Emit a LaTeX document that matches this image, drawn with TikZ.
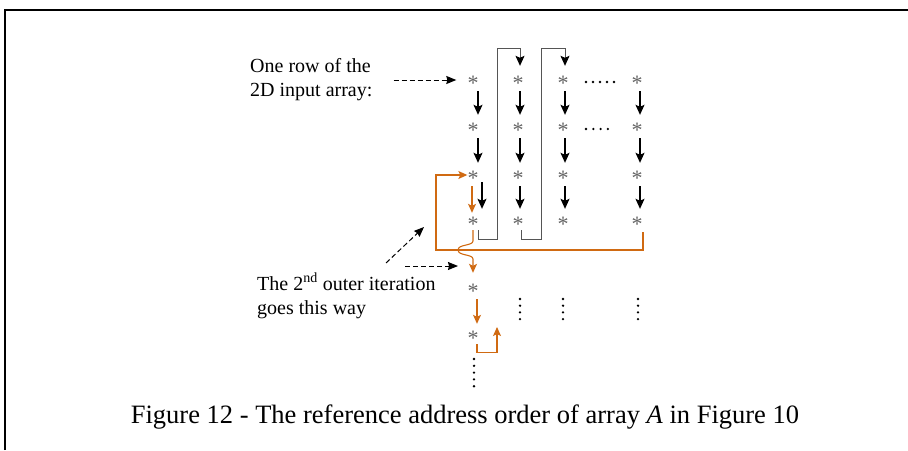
\documentclass[tikz,border=0pt]{standalone}
\usepackage{fontspec}
\setmainfont{Liberation Serif}
\usetikzlibrary{arrows.meta,calc}
\definecolor{burnt}{RGB}{208,106,18}
\definecolor{linkgray}{RGB}{85,85,85}
\definecolor{stargray}{RGB}{100,100,100}
% asterisk whose visual centre sits on the node centre
\newcommand{\cellmark}{\raisebox{-0.47em}[0pt][0pt]{*}}
\begin{document}
\begin{tikzpicture}[x=1pt,y=-1pt,
  star/.style={inner sep=0pt,minimum width=8pt,minimum height=22pt,text=stargray,
    font=\fontsize{22}{22}\selectfont},
  tip/.style={-{Stealth[length=10pt,width=9pt,inset=2pt]}},
  flow/.style={tip,line width=1.2pt,black,shorten >=1pt},
  serp/.style={line width=1pt,linkgray,-{Stealth[length=10pt,width=9pt,inset=2pt,black]}},
  orng/.style={line width=1.1pt,burnt,-{Stealth[length=9pt,width=8pt,inset=2pt]}},
  dsh/.style={line width=1pt,black,dash pattern=on 5pt off 3pt,
    -{Stealth[length=10pt,width=8pt,inset=1pt]}},
  lbl/.style={inner sep=0pt,align=left,font=\fontsize{20}{24}\selectfont},
  dotmark/.style={fill=black,circle,inner sep=0pt,minimum size=2.6pt}]
\useasboundingbox (0,0) rectangle (908,450);
% open frame: left and top edges only
\draw[line width=2pt] (5,450) -- (5,10) -- (908,10);

% grid of array elements
\foreach \c/\x in {1/473,2/518,3/563,4/637}{
  \foreach \r/\y in {1/80,2/127,3/175,4/221}{
    \node[star] (s\c\r) at (\x,\y) {\cellmark};
  }
}
\node[star] (s15) at (473,288) {\cellmark};
\node[star] (s16) at (473,335) {\cellmark};

% inner iteration arrows
\foreach \c/\dx in {1/5,2/2,3/2,4/3}{
  \draw[flow] ([xshift=\dx pt]s\c1.south) -- ([xshift=\dx pt]s\c2.north);
  \draw[flow] ([xshift=\dx pt]s\c2.south) -- ([xshift=\dx pt]s\c3.north);
}
\draw[flow] ([xshift=9pt,yshift=4pt]s13.south) -- ([xshift=9pt]s14.north);
\foreach \c/\dx in {2/2,3/2,4/3}{
  \draw[flow] ([xshift=\dx pt]s\c3.south) -- ([xshift=\dx pt]s\c4.north);
}

% column-to-column links
\coordinate (u1) at (497,48);
\coordinate (u2) at (541,48);
\draw[serp] ([xshift=5pt,yshift=2pt]s14.south) -- ++(0,9) -| (u1) -| ([xshift=2pt,yshift=3pt]s21.north);
\draw[serp] ([xshift=3pt,yshift=2pt]s24.south) -- ++(0,9) -| (u2) -| ([xshift=2pt,yshift=3pt]s31.north);

% horizontal ellipses in rows 1 and 2
\foreach \i in {0,...,4}{ \node[dotmark] (ha\i) at (586+7*\i,82) {}; }
\foreach \i in {0,...,3}{ \node[dotmark] (hb\i) at (586+7.3*\i,129) {}; }

% vertical ellipses below the grid
\foreach \x/\n in {520/a,563/b,638/c}{
  \foreach \i in {0,...,3}{ \node[dotmark] (v\n\i) at (\x,299+6.7*\i) {}; }
}
\foreach \i in {0,...,4}{ \node[dotmark] (vd\i) at (474,359+6.8*\i) {}; }

% second outer iteration
\coordinate (lp) at (436,250);
\draw[orng] ([xshift=6pt]s44.south) |- (lp) |- (s13.west);
\draw[orng] ([xshift=-1pt]s13.south) -- ([xshift=-1pt,yshift=-3pt]s14.north);
\coordinate (hop) at (473,250);
\draw[orng] ([yshift=2pt]s14.south) -- ($(hop)+(0,-9)$)
  .. controls ($(hop)+(0,-4)$) and ($(hop)+(-15,-6)$) .. ($(hop)+(-15,0)$)
  .. controls ($(hop)+(-15,6)$) and ($(hop)+(0,4)$) .. ($(hop)+(0,9)$)
  -- ([yshift=4pt]s15.north);
\draw[orng] ([xshift=4pt]s15.south) -- ([xshift=4pt]s16.north);
\coordinate (lr) at (497,327);
\draw[orng] ([xshift=4pt,yshift=2pt]s16.south) -- ++(0,8) -| (lr);

% labels
\node[lbl,anchor=west] (row) at (250,80) {One row of the\\2D input array:};
\draw[dsh] ([xshift=21pt]row.east) -- ([xshift=-11pt]s11.west);

\node[lbl,anchor=north west] (outer) at (257,273)
  {The 2\textsuperscript{nd} outer iteration\\goes this way};
\coordinate (da) at (386,263);
\coordinate (db) at (424,227);
\draw[dsh] (da) -- (db);
\coordinate (dc) at (405,266);
\coordinate (dd) at (458,266);
\draw[dsh] (dc) -- (dd);

% caption
\node[font=\fontsize{26.5}{30}\selectfont,inner sep=0pt] (cap) at (465,417)
  {Figure 12 - The reference address order of array \textit{A} in Figure 10};
\end{tikzpicture}
\end{document}
